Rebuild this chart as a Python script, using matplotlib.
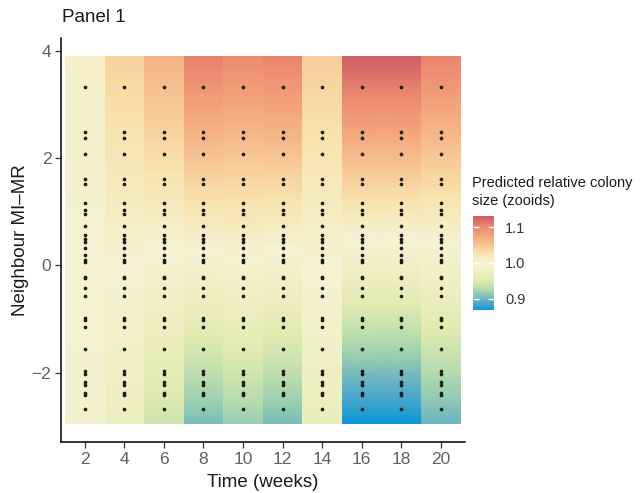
import numpy as np
import matplotlib
matplotlib.use('Agg')
import matplotlib.pyplot as plt
from matplotlib.colors import LinearSegmentedColormap, Normalize
from matplotlib.patches import Rectangle

plt.rcParams['font.family'] = ['Liberation Sans', 'DejaVu Sans']

# data
weeks = [2, 4, 6, 8, 10, 12, 14, 16, 18, 20]
# predicted relative colony size at the top / bottom edge of each tile column
pred_top = [1.008, 1.040, 1.066, 1.108, 1.100, 1.106, 1.044, 1.131, 1.131, 1.106]
pred_bottom = [0.994, 0.972, 0.942, 0.906, 0.918, 0.906, 0.968, 0.869, 0.869, 0.900]
tile_top = 3.90
tile_bottom = -2.95
neighbour = [3.32, 2.49, 2.37, 2.08, 1.62, 1.51, 1.16, 1.03, 0.96, 0.74, 0.56,
             0.50, 0.43, 0.32, 0.19, 0.11, 0.06, -0.21, -0.24, -0.42, -0.57,
             -0.98, -1.02, -1.14, -1.56, -1.97, -2.03, -2.18, -2.22, -2.37,
             -2.42, -2.67]
cbar_ticks = [0.9, 1.0, 1.1]

cmap = LinearSegmentedColormap.from_list('pred', [
    (0.00, '#0d97d7'), (0.05, '#3ca3cd'), (0.128, '#74b8bf'),
    (0.17, '#92cbb2'), (0.23, '#b8dcae'), (0.32, '#e2ebb0'),
    (0.42, '#eef0c4'), (0.50, '#f4f3d3'), (0.60, '#f8e4ae'),
    (0.70, '#f7c390'), (0.80, '#f3a27a'), (0.883, '#ec8a70'),
    (1.00, '#cf5d66')])
norm = Normalize(vmin=0.869, vmax=1.131)

fig = plt.figure(figsize=(6.4, 4.93), dpi=100)
ax = fig.add_axes([61 / 640, 1 - 442 / 493, (464.7 - 61) / 640, (442 - 38) / 493])

# each column: a 2-pixel image whose pixel centres sit on the tile edges,
# smoothed in data space by matplotlib and clipped to the tile
h = tile_top - tile_bottom
for w, top, bot in zip(weeks, pred_top, pred_bottom):
    im = ax.imshow([[top], [bot]], cmap=cmap, norm=norm, aspect='auto',
                   interpolation='bilinear', interpolation_stage='data',
                   extent=(w - 1, w + 1, tile_bottom - h / 2, tile_top + h / 2))
    im.set_clip_path(Rectangle((w - 1, tile_bottom), 2, h, transform=ax.transData))

for w in weeks:
    ax.scatter([w] * len(neighbour), neighbour, s=7, c='#1a1a1a', linewidths=0, zorder=3)

ax.set_xlim(0.8, 21.2)
ax.set_ylim(-3.29, 4.24)
ax.set_xticks(weeks)
ax.set_yticks([-2, 0, 2, 4])
for s in ['top', 'right']:
    ax.spines[s].set_visible(False)
for s in ['left', 'bottom']:
    ax.spines[s].set_linewidth(1.1)
    ax.spines[s].set_color('black')
ax.tick_params(length=4, width=0.9, color='#333333', labelsize=12.5,
               labelcolor='#606060', pad=3)
ax.set_xlabel('Time (weeks)', fontsize=13.5, color='#1a1a1a', labelpad=5)
ax.set_ylabel('Neighbour MI\u2013MR', fontsize=13.5, color='#1a1a1a', labelpad=2)
fig.text(62 / 640, 1 - 18 / 493, 'Panel 1', fontsize=13.5, color='#1a1a1a',
         ha='left', va='center')

cax = fig.add_axes([473 / 640, 1 - 310 / 493, 21 / 640, 94 / 493])
cb = fig.colorbar(plt.cm.ScalarMappable(norm=norm, cmap=cmap), cax=cax, ticks=cbar_ticks)
cb.outline.set_visible(False)
cax.tick_params(direction='in', length=4, width=1, color='white', labelsize=10.5,
                labelcolor='#333333', pad=8, left=True, right=True)
cax.set_yticklabels(['0.9', '1.0', '1.1'])
fig.text(472 / 640, 1 - 192 / 493, 'Predicted relative colony\nsize (zooids)',
         fontsize=10.5, color='#1a1a1a', ha='left', va='center', linespacing=1.3)

fig.savefig('out.png', dpi=100)
